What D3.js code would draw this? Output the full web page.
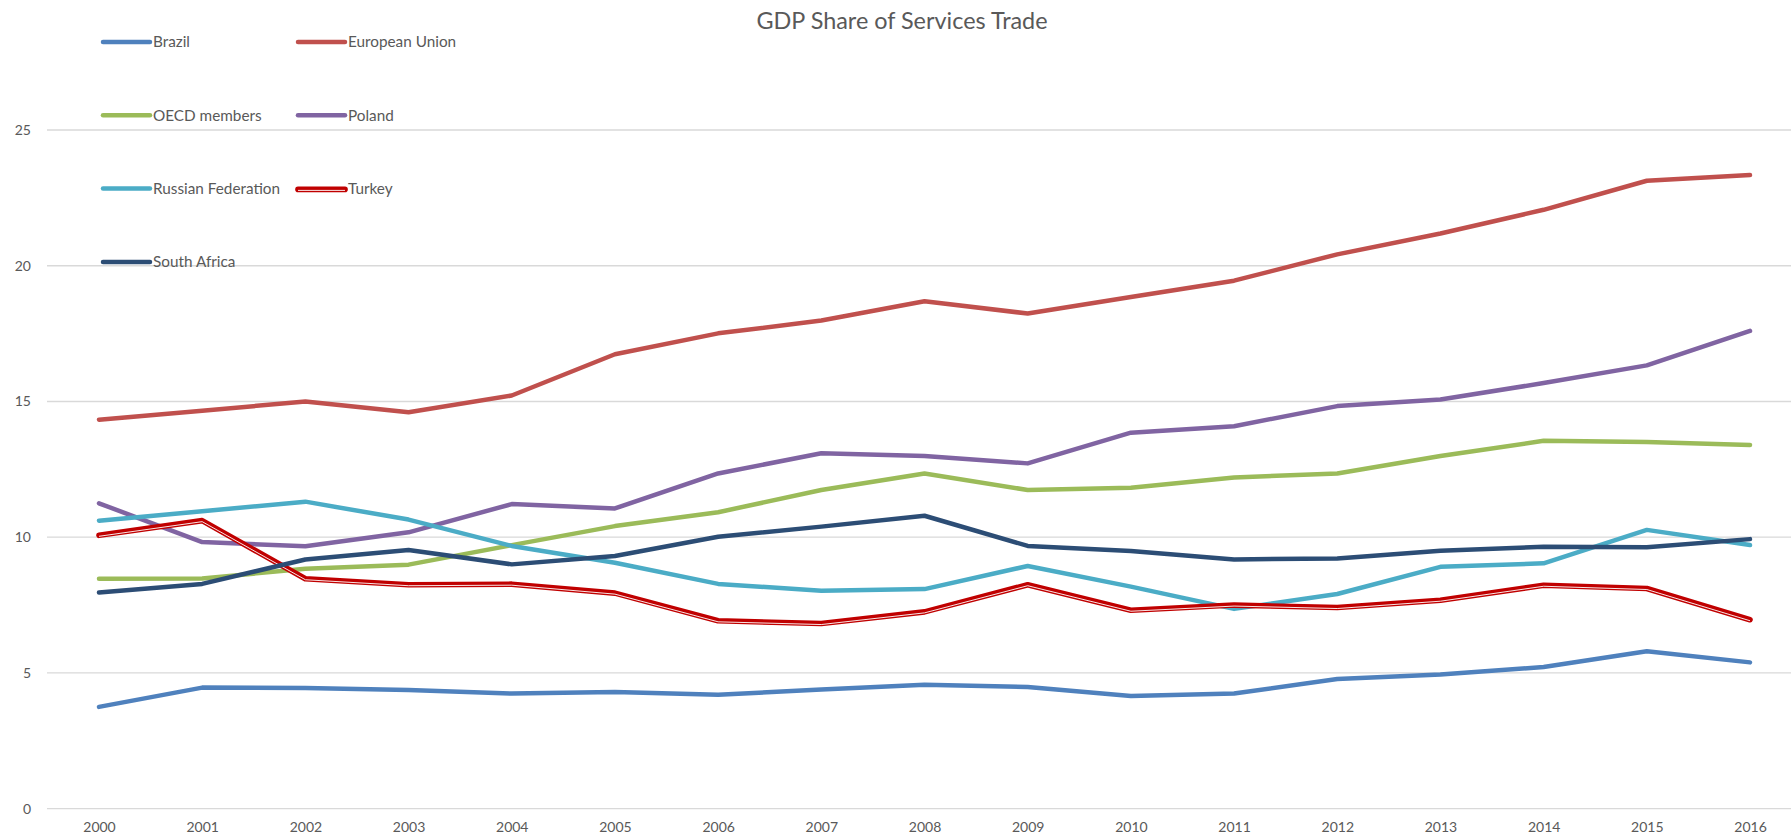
<!DOCTYPE html>
<html>
<head>
<meta charset="utf-8">
<script src="https://cdn.jsdelivr.net/npm/d3@7/dist/d3.min.js"></script>
<style>
  html, body { margin: 0; padding: 0; background: #ffffff; }
  svg { display: block; }
  text { font-family: Lato, "Open Sans", sans-serif; fill: #595959; }
</style>
</head>
<body>
<svg id="chart" width="1791" height="840"></svg>
<script>
// Years on the category axis
const years = ["2000","2001","2002","2003","2004","2005","2006","2007","2008",
               "2009","2010","2011","2012","2013","2014","2015","2016"];

// Services trade as a share of GDP (%)
const brazil = [3.75, 4.46, 4.45, 4.37, 4.24, 4.30, 4.20, 4.39, 4.57, 4.48, 4.15, 4.24, 4.78, 4.94, 5.22, 5.80, 5.39];
const europeanUnion = [14.33, 14.66, 15.00, 14.60, 15.22, 16.74, 17.51, 17.98, 18.69, 18.24, 18.85, 19.45, 20.42, 21.19, 22.06, 23.13, 23.34];
const oecdMembers = [8.47, 8.48, 8.84, 8.99, 9.71, 10.41, 10.92, 11.74, 12.35, 11.74, 11.82, 12.20, 12.35, 12.99, 13.55, 13.51, 13.40];
const poland = [11.25, 9.82, 9.67, 10.18, 11.22, 11.06, 12.35, 13.09, 12.99, 12.72, 13.85, 14.09, 14.83, 15.07, 15.68, 16.33, 17.60];
const russianFederation = [10.61, 10.96, 11.31, 10.65, 9.68, 9.06, 8.28, 8.03, 8.09, 8.94, 8.18, 7.36, 7.91, 8.91, 9.04, 10.27, 9.71];
const turkey = [10.10, 10.64, 8.50, 8.28, 8.30, 7.97, 6.95, 6.85, 7.28, 8.28, 7.34, 7.53, 7.44, 7.71, 8.26, 8.14, 6.99];
const southAfrica = [7.96, 8.28, 9.18, 9.53, 9.00, 9.31, 10.02, 10.39, 10.79, 9.68, 9.49, 9.18, 9.22, 9.50, 9.65, 9.63, 9.93];

const seriesNames = ["Brazil", "European Union", "OECD members", "Poland",
                     "Russian Federation", "Turkey", "South Africa"];
const seriesValues = [brazil, europeanUnion, oecdMembers, poland,
                      russianFederation, turkey, southAfrica];
const yTicks = [0, 5, 10, 15, 20, 25];

const colors = ["#4F81BD", "#C0504D", "#9BBB59", "#8064A2", "#4BACC6", "#C00000", "#2C4D75"];
const doubleStroke = { "Turkey": true };

const W = 1791, H = 840;
const svg = d3.select("#chart");

const x = d3.scalePoint().domain(years).range([47.4, 1801.6]).padding(0.5);
const y = d3.scaleLinear().domain([0, 25]).range([808.7, 130]);

// Horizontal gridlines
svg.append("g")
  .selectAll("line")
  .data(yTicks)
  .join("line")
  .attr("x1", 47).attr("x2", W)
  .attr("y1", d => y(d)).attr("y2", d => y(d))
  .attr("stroke", "#D9D9D9")
  .attr("stroke-width", 1.3);

// Value axis labels
const yAxis = d3.axisLeft(y).tickValues(yTicks).tickSize(0).tickPadding(0).tickFormat(d3.format("d"));
const gy = svg.append("g").attr("transform", "translate(31,0)").call(yAxis);
gy.select(".domain").remove();
gy.selectAll("text").attr("font-size", 14).attr("fill", "#595959")
  .style("font-family", "Lato, 'Open Sans', sans-serif");

// Category axis labels
const xAxis = d3.axisBottom(x).tickSize(0).tickPadding(0);
const gx = svg.append("g").attr("transform", "translate(0,822)").call(xAxis);
gx.select(".domain").remove();
gx.selectAll("text").attr("font-size", 14).attr("fill", "#595959")
  .style("font-family", "Lato, 'Open Sans', sans-serif");

// Series lines
const line = d3.line()
  .x((d, i) => x(years[i]))
  .y(d => y(d));

const series = seriesNames.map((name, k) => ({ name, values: seriesValues[k], color: colors[k] }));

const lines = svg.append("g");
series.forEach(s => {
  if (doubleStroke[s.name]) {
    lines.append("path")
      .attr("d", line(s.values))
      .attr("transform", "translate(0,0.8)")
      .attr("fill", "none").attr("stroke", s.color)
      .attr("stroke-width", 5.6)
      .attr("stroke-linecap", "round").attr("stroke-linejoin", "round");
    lines.append("path")
      .attr("d", line(s.values))
      .attr("transform", "translate(0,1.8)")
      .attr("fill", "none").attr("stroke", "#ffffff")
      .attr("stroke-width", 0.9)
      .attr("stroke-linecap", "butt").attr("stroke-linejoin", "round");
  } else {
    lines.append("path")
      .attr("d", line(s.values))
      .attr("fill", "none").attr("stroke", s.color)
      .attr("stroke-width", 4.5)
      .attr("stroke-linecap", "round").attr("stroke-linejoin", "round");
  }
});

// Legend: two columns, four rows
const legend = svg.append("g");
const colX = [102, 297];
const rowY = [42, 115.3, 188.6, 262];
series.forEach((s, k) => {
  const cx = colX[k % 2], cy = rowY[Math.floor(k / 2)];
  const g = legend.append("g").attr("transform", `translate(${cx},${cy})`);
  if (doubleStroke[s.name]) {
    g.append("line").attr("x1", 1).attr("x2", 48).attr("y1", 0.8).attr("y2", 0.8)
      .attr("stroke", s.color).attr("stroke-width", 5.6).attr("stroke-linecap", "round");
    g.append("line").attr("x1", 1).attr("x2", 48).attr("y1", 1.8).attr("y2", 1.8)
      .attr("stroke", "#ffffff").attr("stroke-width", 0.9);
  } else {
    g.append("line").attr("x1", 1).attr("x2", 48).attr("y1", 0).attr("y2", 0)
      .attr("stroke", s.color).attr("stroke-width", 4.5).attr("stroke-linecap", "round");
  }
  g.append("text").attr("x", 51).attr("y", 0).attr("dy", "0.35em")
    .attr("font-size", 15.3).text(s.name);
});

// Title
svg.append("text")
  .attr("x", 902).attr("y", 21).attr("dy", "0.35em")
  .attr("text-anchor", "middle")
  .attr("font-size", 23.4)
  .text("GDP Share of Services Trade");
</script>
</body>
</html>
